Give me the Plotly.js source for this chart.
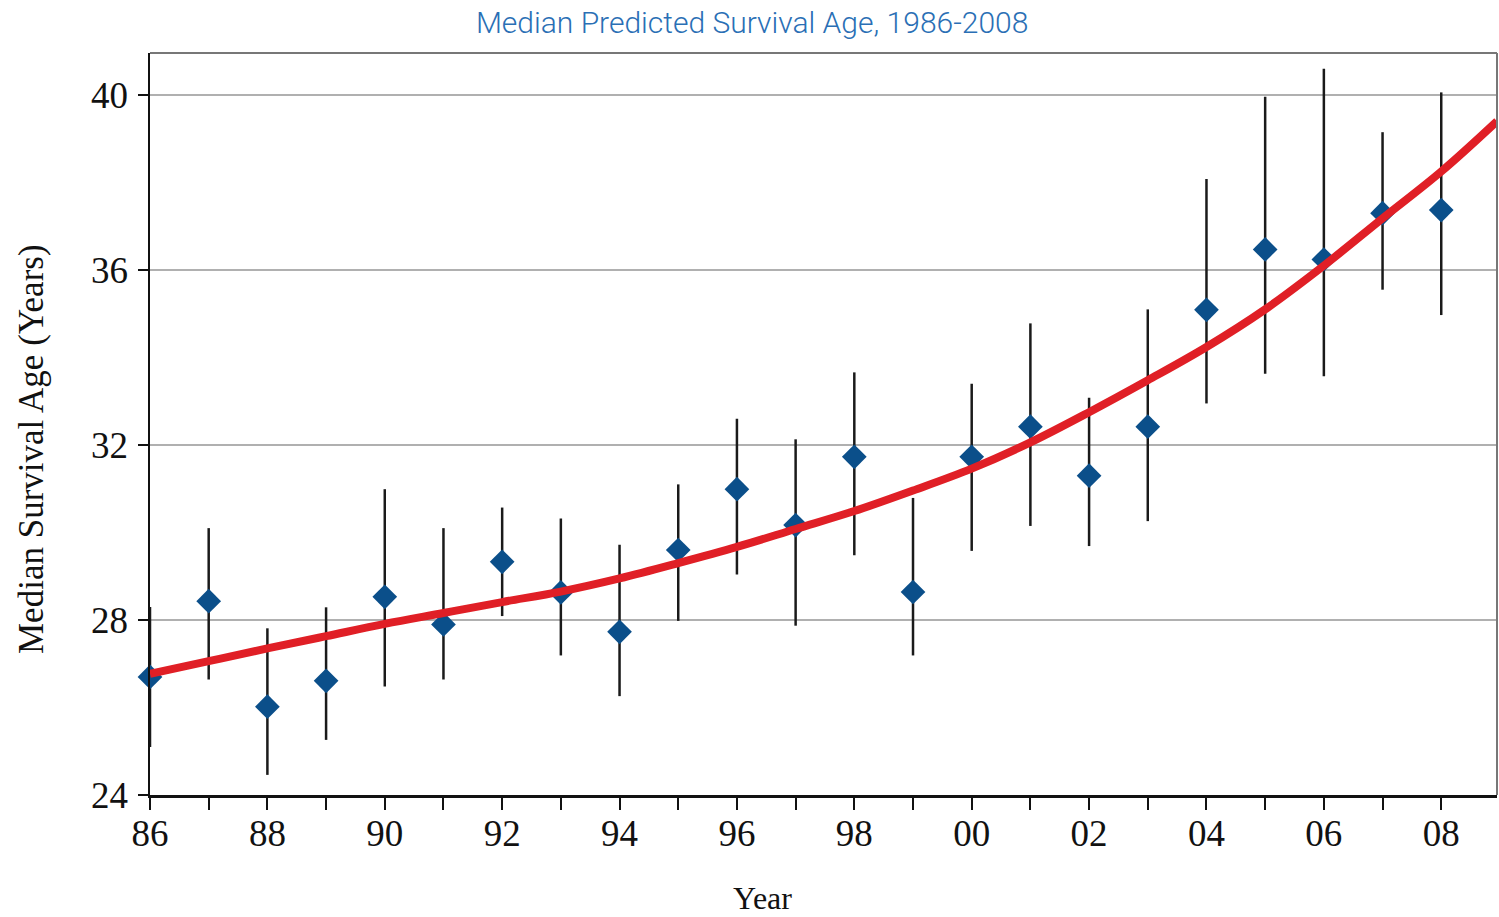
<!DOCTYPE html>
<html>
<head>
<meta charset="utf-8">
<script src="https://cdn.plot.ly/plotly-3.0.1.min.js"></script>
<style>
html,body{margin:0;padding:0;background:#fff;}
#chart{width:1499px;height:917px;}
</style>
</head>
<body>
<div id="chart"></div>
<script>
// Data
const years = [1986,1987,1988,1989,1990,1991,1992,1993,1994,1995,1996,1997,1998,1999,2000,2001,2002,2003,2004,2005,2006,2007,2008];
const medianAge = [26.70,28.43,26.02,26.61,28.53,27.90,29.33,28.63,27.73,29.60,30.99,30.17,31.73,28.64,31.73,32.42,31.30,32.42,35.09,36.47,36.24,37.30,37.37];
const upperAge  = [28.30,30.10,27.81,28.29,30.99,30.10,30.57,30.32,29.72,31.10,32.60,32.13,33.66,30.79,33.40,34.78,33.08,35.10,38.08,39.96,40.60,39.15,40.06];
const lowerAge  = [25.10,26.64,24.46,25.26,26.48,26.64,28.09,27.19,26.26,27.98,29.04,27.87,29.48,27.19,29.58,30.15,29.69,30.26,32.95,33.63,33.57,35.55,34.97];

const fitYears  = [1986,1987,1988,1989,1990,1991,1992,1993,1994,1995,1996,1997,1998,1999,2000,2001,2002,2003,2004,2005,2006,2007,2008,2008.95];
const fitValues = [26.77,27.06,27.35,27.63,27.91,28.16,28.41,28.65,28.95,29.30,29.67,30.08,30.49,30.96,31.46,32.06,32.75,33.48,34.24,35.10,36.10,37.18,38.25,39.40];

const tickYears = years;
const tickLabels = ['86','','88','','90','','92','','94','','96','','98','','00','','02','','04','','06','','08'];
const yTicks = [24,28,32,36,40];

const chartTitle = 'Median Predicted Survival Age, 1986-2008';
const xTitle = 'Year';
const yTitle = 'Median Survival Age (Years)';

const errPlus = medianAge.map((m,i)=>upperAge[i]-m);
const errMinus = medianAge.map((m,i)=>m-lowerAge[i]);

const serif = 'Liberation Serif, Times New Roman, serif';

const traces = [
  {
    type:'scatter', mode:'markers', x:years, y:medianAge,
    marker:{symbol:'diamond', size:19, color:'#0b4f8a'},
    error_y:{type:'data', symmetric:false, array:errPlus, arrayminus:errMinus,
             color:'#1a1a1a', thickness:2.5, width:0},
    cliponaxis:false, showlegend:false, hoverinfo:'x+y'
  },
  {
    type:'scatter', mode:'lines', x:fitYears, y:fitValues,
    line:{color:'#e01f26', width:8, shape:'spline'},
    cliponaxis:true, showlegend:false
  }
];

const layout = {
  width:1499, height:917,
  margin:{l:150, r:2, t:53, b:122},
  paper_bgcolor:'#ffffff', plot_bgcolor:'#ffffff',
  title:{text:chartTitle, x:0.447, xref:'paper', xanchor:'center', y:0.975, yanchor:'middle',
         font:{family:'Roboto, sans-serif', size:30, color:'#2a6fb5', weight:300}},
  xaxis:{
    range:[1986,2008.95], tickmode:'array', tickvals:tickYears, ticktext:tickLabels,
    ticks:'outside', ticklen:12, tickwidth:2, tickcolor:'#111',
    showline:true, linecolor:'#111', linewidth:3, showgrid:false, zeroline:false,
    tickfont:{family:serif, size:37, color:'#111'}, ticklabelstandoff:-8
  },
  yaxis:{
    range:[24,40.96], tickmode:'array', tickvals:yTicks,
    ticks:'outside', ticklen:10, tickwidth:2, tickcolor:'#111',
    showline:true, linecolor:'#111', linewidth:2.5,
    showgrid:true, gridcolor:'#b0b0b0', gridwidth:1.5, zeroline:false,
    tickfont:{family:serif, size:37, color:'#111'}, ticklabelstandoff:2
  },
  annotations:[
    {text:xTitle, xref:'paper', yref:'paper', x:(762-150)/1347, y:-(898-795)/742, xanchor:'center', yanchor:'middle',
     showarrow:false, font:{family:serif, size:32, color:'#111'}},
    {text:yTitle, xref:'paper', yref:'paper', x:-(150-31)/1347, y:(795-449)/742, xanchor:'center', yanchor:'middle',
     textangle:-90, showarrow:false, font:{family:serif, size:35, color:'#111'}}
  ],
  shapes:[
    {type:'line', xref:'paper', yref:'paper', x0:0, x1:1, y0:1, y1:1, line:{color:'#777', width:2}},
    {type:'line', xref:'paper', yref:'paper', x0:1, x1:1, y0:0, y1:1, line:{color:'#777', width:2}}
  ]
};

Plotly.newPlot('chart', traces, layout, {displayModeBar:false, staticPlot:true});
</script>
</body>
</html>
